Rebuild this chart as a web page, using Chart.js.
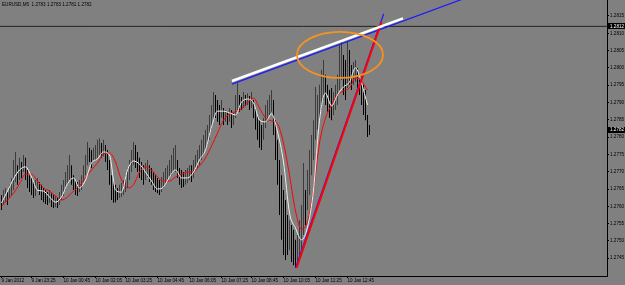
<!DOCTYPE html>
<html>
<head>
<meta charset="utf-8">
<script src="https://cdn.jsdelivr.net/npm/chart.js@4.4.1/dist/chart.umd.min.js"></script>
<style>
  html, body { margin: 0; padding: 0; background: #808080; }
  canvas { display: block; }
</style>
</head>
<body>
<canvas id="myChart" width="625" height="285"></canvas>
<script>
const symbolTitle = "EURUSD,M5  1.2783 1.2783 1.2781 1.2782";

const highs = [
  1.27633, 1.27647, 1.27653, 1.27641, 1.27662, 1.27682, 1.27734, 1.27757, 1.27719, 1.27740,
  1.27728, 1.27748, 1.27740, 1.27705, 1.27690, 1.27682, 1.27670, 1.27676, 1.27682, 1.27670,
  1.27662, 1.27653, 1.27647, 1.27641, 1.27647, 1.27638, 1.27633, 1.27630, 1.27627, 1.27641,
  1.27662, 1.27676, 1.27699, 1.27719, 1.27748, 1.27719, 1.27690, 1.27676, 1.27670, 1.27676,
  1.27690, 1.27719, 1.27748, 1.27786, 1.27769, 1.27763, 1.27769, 1.27777, 1.27792, 1.27797,
  1.27783, 1.27792, 1.27777, 1.27763, 1.27734, 1.27690, 1.27670, 1.27662, 1.27653, 1.27662,
  1.27667, 1.27676, 1.27690, 1.27711, 1.27734, 1.27763, 1.27786, 1.27777, 1.27757, 1.27740,
  1.27728, 1.27719, 1.27725, 1.27734, 1.27719, 1.27711, 1.27699, 1.27690, 1.27682, 1.27676,
  1.27685, 1.27699, 1.27711, 1.27719, 1.27734, 1.27748, 1.27769, 1.27777, 1.27734, 1.27711,
  1.27705, 1.27699, 1.27705, 1.27711, 1.27719, 1.27719, 1.27734, 1.27748, 1.27763, 1.27777,
  1.27792, 1.27806, 1.27821, 1.27835, 1.27864, 1.27893, 1.27930, 1.27922, 1.27907, 1.27893,
  1.27907, 1.27884, 1.27878, 1.27873, 1.27884, 1.27878, 1.27873, 1.27922, 1.27956, 1.27922,
  1.27916, 1.27930, 1.27922, 1.27927, 1.27919, 1.27930, 1.27907, 1.27884, 1.27864, 1.27849,
  1.27835, 1.27855, 1.27893, 1.27907, 1.27922, 1.27936, 1.27907, 1.27849, 1.27792, 1.27734,
  1.27690, 1.27647, 1.27618, 1.27575, 1.27560, 1.27546, 1.27532, 1.27503, 1.27517, 1.27560,
  1.27604, 1.27725, 1.27647, 1.27705, 1.27763, 1.27806, 1.27849, 1.27945, 1.27922, 1.27951,
  1.27994, 1.28023, 1.27980, 1.27951, 1.27936, 1.27942, 1.27930, 1.27951, 1.27980, 1.28066,
  1.28081, 1.28037, 1.28023, 1.28075, 1.28052, 1.28008, 1.28017, 1.28023, 1.28000, 1.27980,
  1.27965, 1.27951, 1.27936, 1.27864, 1.27835
];

const lows = [
  1.27589, 1.27604, 1.27612, 1.27604, 1.27624, 1.27633, 1.27647, 1.27670, 1.27662, 1.27676,
  1.27682, 1.27699, 1.27676, 1.27653, 1.27641, 1.27633, 1.27624, 1.27630, 1.27647, 1.27633,
  1.27618, 1.27612, 1.27607, 1.27604, 1.27610, 1.27598, 1.27595, 1.27598, 1.27595, 1.27604,
  1.27618, 1.27630, 1.27647, 1.27662, 1.27676, 1.27662, 1.27647, 1.27633, 1.27630, 1.27641,
  1.27647, 1.27670, 1.27690, 1.27719, 1.27728, 1.27711, 1.27734, 1.27734, 1.27740, 1.27748,
  1.27740, 1.27745, 1.27728, 1.27705, 1.27662, 1.27618, 1.27610, 1.27612, 1.27618, 1.27624,
  1.27627, 1.27633, 1.27641, 1.27653, 1.27676, 1.27699, 1.27719, 1.27711, 1.27699, 1.27682,
  1.27676, 1.27662, 1.27676, 1.27685, 1.27670, 1.27662, 1.27647, 1.27641, 1.27638, 1.27633,
  1.27641, 1.27653, 1.27662, 1.27670, 1.27682, 1.27690, 1.27705, 1.27699, 1.27682, 1.27662,
  1.27653, 1.27656, 1.27662, 1.27667, 1.27676, 1.27670, 1.27682, 1.27705, 1.27711, 1.27719,
  1.27734, 1.27748, 1.27763, 1.27777, 1.27792, 1.27821, 1.27849, 1.27855, 1.27844, 1.27835,
  1.27855, 1.27835, 1.27844, 1.27835, 1.27844, 1.27826, 1.27835, 1.27855, 1.27878, 1.27873,
  1.27878, 1.27884, 1.27890, 1.27893, 1.27878, 1.27884, 1.27855, 1.27821, 1.27792, 1.27769,
  1.27763, 1.27792, 1.27826, 1.27844, 1.27864, 1.27873, 1.27806, 1.27734, 1.27662, 1.27575,
  1.27503, 1.27459, 1.27445, 1.27459, 1.27474, 1.27439, 1.27430, 1.27422, 1.27439, 1.27459,
  1.27474, 1.27517, 1.27546, 1.27589, 1.27633, 1.27690, 1.27734, 1.27792, 1.27821, 1.27855,
  1.27878, 1.27907, 1.27893, 1.27873, 1.27855, 1.27849, 1.27864, 1.27878, 1.27893, 1.27936,
  1.27965, 1.27922, 1.27907, 1.27942, 1.27951, 1.27936, 1.27951, 1.27959, 1.27942, 1.27922,
  1.27893, 1.27864, 1.27849, 1.27800, 1.27806
];

// moyennes mobiles, une valeur toutes les 3 barres
const maEvery = 3;
const fastMA = [
  1.27610, 1.27644, 1.27679, 1.27705, 1.27714, 1.27685, 1.27647, 1.27644, 1.27627, 1.27612,
  1.27627, 1.27665, 1.27682, 1.27653, 1.27676, 1.27725, 1.27737, 1.27757, 1.27748, 1.27647,
  1.27641, 1.27705, 1.27731, 1.27722, 1.27699, 1.27673, 1.27650, 1.27656, 1.27685, 1.27705,
  1.27682, 1.27682, 1.27699, 1.27734, 1.27763, 1.27829, 1.27875, 1.27875, 1.27870, 1.27864,
  1.27901, 1.27910, 1.27899, 1.27849, 1.27844, 1.27867, 1.27815, 1.27728, 1.27581, 1.27537,
  1.27503, 1.27540, 1.27647, 1.27849, 1.27927, 1.27890, 1.27922, 1.27945, 1.27959, 1.28000,
  1.27956, 1.27893
];
const slowMA = [
  1.27601, 1.27618, 1.27638, 1.27665, 1.27693, 1.27693, 1.27673, 1.27653, 1.27644, 1.27630,
  1.27618, 1.27627, 1.27644, 1.27659, 1.27682, 1.27705, 1.27725, 1.27751, 1.27754, 1.27728,
  1.27676, 1.27653, 1.27662, 1.27699, 1.27714, 1.27705, 1.27685, 1.27673, 1.27673, 1.27685,
  1.27693, 1.27699, 1.27699, 1.27717, 1.27740, 1.27774, 1.27812, 1.27849, 1.27867, 1.27873,
  1.27881, 1.27899, 1.27913, 1.27884, 1.27855, 1.27847, 1.27838, 1.27783, 1.27690, 1.27586,
  1.27534, 1.27555, 1.27647, 1.27783, 1.27855, 1.27893, 1.27922, 1.27933, 1.27942, 1.27971,
  1.27962, 1.27936
];

const timeLabels = ["9 Jan 2012", "9 Jan 23:25", "10 Jan 00:45", "10 Jan 02:05", "10 Jan 03:25",
  "10 Jan 04:45", "10 Jan 06:05", "10 Jan 07:25", "10 Jan 08:45", "10 Jan 10:05",
  "10 Jan 11:25", "10 Jan 12:45"];
const timeBars = [0, 15, 31, 47, 62, 78, 94, 110, 125, 141, 157, 173];
const priceTicks = [1.2745, 1.2750, 1.2755, 1.2760, 1.2765, 1.2770, 1.2775, 1.2780,
  1.2785, 1.2790, 1.2795, 1.2800, 1.2805, 1.2810, 1.2815, 1.2820];

const lastPrice = 1.2782;
const levelPrice = 1.2812;

// objets dessinés à la main : [barre, prix]
const redTrend = [[147.5, 1.27422], [190, 1.28133]];
const blueTrend = [[147, 1.27422], [191.1, 1.28156]];
const upperTrend = [[115.25, 1.27953], [259.25, 1.28260]];
const whiteTrend = [[115.25, 1.27962], [200.75, 1.28143]];
const ellipseBox = [[147.75, 1.28104], [190.75, 1.27971]];

const FONT = "Liberation Sans";
Chart.defaults.font.family = FONT;

const toPoints = (pairs) => pairs.map((p) => ({ x: p[0], y: p[1] }));
const maPoints = (arr) => arr.map((v, k) => ({ x: k * maEvery, y: v }));

function lineSet(data, color, width, order) {
  return {
    type: "line",
    data: data,
    borderColor: color,
    borderWidth: width,
    pointRadius: 0,
    tension: 0,
    order: order,
  };
}

// couleur des barres : montée gris foncé, baisse noire
const barColors = highs.map((h, i) => {
  if (i === 0) return "#000";
  const mid = (h + lows[i]) / 2;
  const prev = (highs[i - 1] + lows[i - 1]) / 2;
  return mid >= prev ? "#3c3c3c" : "#000";
});

const overlays = {
  id: "overlays",
  afterDatasetsDraw(chart) {
    const { ctx, scales: { x, y } } = chart;
    const x1 = x.getPixelForValue(ellipseBox[0][0]);
    const x2 = x.getPixelForValue(ellipseBox[1][0]);
    const y1 = y.getPixelForValue(ellipseBox[0][1]);
    const y2 = y.getPixelForValue(ellipseBox[1][1]);
    ctx.save();
    ctx.beginPath();
    ctx.ellipse((x1 + x2) / 2, (y1 + y2) / 2, Math.abs(x2 - x1) / 2, Math.abs(y2 - y1) / 2, 0, 0, Math.PI * 2);
    ctx.strokeStyle = "#f7921e";
    ctx.lineWidth = 1.8;
    ctx.stroke();
    ctx.restore();
  },
  afterDraw(chart) {
    const { ctx, chartArea, scales: { y } } = chart;
    ctx.save();
    ctx.font = "4.6px " + FONT;
    ctx.fillStyle = "#000";
    ctx.textBaseline = "middle";
    ctx.textAlign = "left";
    ctx.fillText(symbolTitle, 2, 5);

    // étiquettes de prix sur l'axe
    [levelPrice, lastPrice].forEach((p) => {
      const py = y.getPixelForValue(p);
      ctx.fillStyle = "#000";
      ctx.fillRect(chartArea.right + 1, Math.round(py) - 3, 18, 6);
      ctx.fillStyle = "#fff";
      ctx.fillText(p.toFixed(4), chartArea.right + 3, py);
    });
    ctx.restore();
  },
};

const ctx = document.getElementById("myChart").getContext("2d");
window.myChart = new Chart(ctx, {
  type: "bar",
  data: {
    datasets: [
      lineSet(toPoints(whiteTrend), "#ffffff", 2.5, 1),
      lineSet(toPoints(redTrend), "#ff0000", 2, 2),
      lineSet(toPoints(upperTrend), "#1a1aff", 1.2, 3),
      lineSet(toPoints(blueTrend), "#1a1aff", 1.3, 3),
      lineSet(maPoints(fastMA), "#f0f0f0", 1, 4),
      lineSet(maPoints(slowMA), "#ff0000", 1, 5),
      lineSet([{ x: -5, y: levelPrice }, { x: 400, y: levelPrice }], "#222222", 1, 6),
      {
        type: "bar",
        data: highs.map((h, i) => ({ x: i, y: [lows[i], h] })),
        backgroundColor: barColors,
        borderWidth: 0,
        barThickness: 1,
        inflateAmount: 0,
        order: 10,
      },
    ],
  },
  plugins: [overlays],
  options: {
    responsive: false,
    animation: false,
    events: [],
    layout: { padding: 0 },
    plugins: {
      legend: { display: false },
      tooltip: { enabled: false },
    },
    elements: { line: { cubicInterpolationMode: "monotone" } },
    scales: {
      x: {
        type: "linear",
        offset: false,
        min: -0.75,
        max: 302.75,
        grid: { display: true, drawOnChartArea: false, drawTicks: true, tickLength: 2, color: "#000", offset: false },
        border: { display: true, color: "#000", width: 1 },
        afterBuildTicks: (scale) => {
          scale.ticks = timeBars.map((v) => ({ value: v }));
        },
        afterFit: (scale) => {
          scale.height = 9;
          scale.paddingLeft = 0;
          scale.paddingRight = 0;
        },
        ticks: {
          autoSkip: false,
          maxRotation: 0,
          align: "start",
          padding: 0,
          color: "#000",
          font: { size: 4.6 },
          callback: (value, index) => timeLabels[index],
        },
      },
      y: {
        type: "linear",
        position: "right",
        min: 1.273986,
        max: 1.281962,
        grid: { display: true, drawOnChartArea: false, drawTicks: true, tickLength: 2, color: "#000" },
        border: { display: true, color: "#000", width: 1 },
        afterBuildTicks: (scale) => {
          scale.ticks = priceTicks.map((v) => ({ value: v }));
        },
        afterFit: (scale) => {
          scale.width = 18;
          scale.paddingTop = 0;
          scale.paddingBottom = 0;
        },
        ticks: {
          autoSkip: false,
          padding: 1,
          color: "#000",
          font: { size: 4.6 },
          callback: (value) => value.toFixed(4),
        },
      },
    },
  },
});
</script>
</body>
</html>
